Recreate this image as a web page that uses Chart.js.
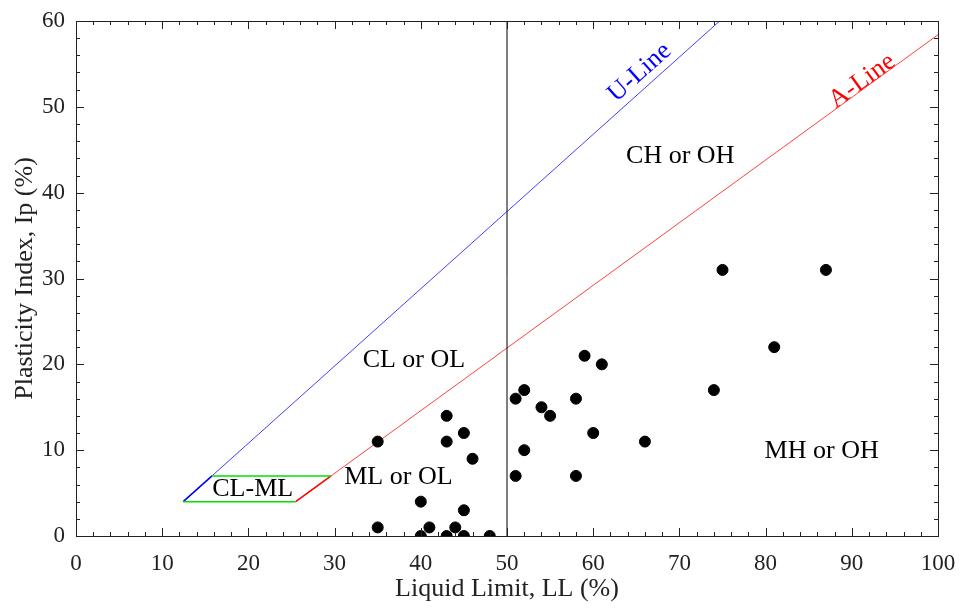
<!DOCTYPE html>
<html>
<head>
<meta charset="utf-8">
<script src="https://cdn.jsdelivr.net/npm/chart.js@4.4.1/dist/chart.umd.min.js"></script>
<style>
  body { margin: 0; background: #fff; }
  #wrap { width: 961px; height: 610px; }
</style>
</head>
<body>
<div id="wrap"><canvas id="plasticityChart" width="961" height="610"></canvas></div>
<script>
// soil samples (LL, Ip)
const liquidLimit = [35, 35, 40, 40, 41, 43, 43, 43, 44, 45, 45, 45, 46, 48, 51, 51, 52, 52, 54, 55, 58, 58, 59, 60, 61, 66, 74, 75, 81, 87];
const plasticity  = [11, 1, 4, 0, 1, 14, 11, 0, 1, 12, 3, 0, 9, 0, 16, 7, 17, 10, 15, 14, 16, 7, 21, 12, 20, 11, 17, 31, 22, 31];

// reference lines of the Casagrande chart
const uLine = [{ x: 12.44, y: 4 }, { x: 74.67, y: 60 }];
const uLineLow = [{ x: 12.44, y: 4 }, { x: 15.78, y: 7 }];
const aLine = [{ x: 25.48, y: 4 }, { x: 100, y: 58.4 }];
const aLineLow = [{ x: 25.48, y: 4 }, { x: 29.59, y: 7 }];
const clmlBottom = [{ x: 12.44, y: 4 }, { x: 25.48, y: 4 }];
const clmlTop = [{ x: 15.78, y: 7 }, { x: 29.59, y: 7 }];
const llDivide = [{ x: 50, y: 0 }, { x: 50, y: 60 }];

// zone labels
const zoneLabels = [
  { text: 'CH or OH', x: 70.1, y: 44.2 },
  { text: 'CL or OL', x: 39.2, y: 20.5 },
  { text: 'ML or OL', x: 37.4, y: 6.9 },
  { text: 'CL-ML', x: 20.5, y: 5.4 },
  { text: 'MH or OH', x: 86.5, y: 9.9 }
];
const lineLabels = [
  { text: 'U-Line', x: 65.4, y: 54.0, color: '#0000ff', angle: 41.9 },
  { text: 'A-Line', x: 91.2, y: 53.0, color: '#ff0000', angle: 36 }
];

const FONT = "'Liberation Serif', 'Times New Roman', serif";

const samples = liquidLimit.map((ll, i) => ({ x: ll, y: plasticity[i] }));

function lineSet(data, color, width) {
  return {
    data: data,
    showLine: true,
    borderColor: color,
    borderWidth: width,
    pointRadius: 0,
    fill: false
  };
}

// inward ticks on all four sides + frame
const frameTicks = {
  id: 'frameTicks',
  afterDraw(chart) {
    const { ctx, chartArea: a, scales: { x, y } } = chart;
    ctx.save();
    ctx.strokeStyle = '#222';
    ctx.lineWidth = 1;
    ctx.strokeRect(a.left + 0.5, a.top + 0.5, a.right - a.left, a.bottom - a.top);
    ctx.beginPath();
    x.ticks.forEach(t => {
      const px = Math.round(x.getPixelForValue(t.value)) + 0.5;
      const len = t.value % 10 === 0 ? 8 : 4;
      ctx.moveTo(px, a.bottom); ctx.lineTo(px, a.bottom - len);
      ctx.moveTo(px, a.top); ctx.lineTo(px, a.top + len);
    });
    y.ticks.forEach(t => {
      const py = Math.round(y.getPixelForValue(t.value)) + 0.5;
      const len = t.value % 10 === 0 ? 8 : 4;
      ctx.moveTo(a.left, py); ctx.lineTo(a.left + len, py);
      ctx.moveTo(a.right, py); ctx.lineTo(a.right - len, py);
    });
    ctx.stroke();
    ctx.restore();
  }
};

const zoneText = {
  id: 'zoneText',
  afterDatasetsDraw(chart) {
    const { ctx, scales: { x, y } } = chart;
    ctx.save();
    ctx.textAlign = 'center';
    ctx.textBaseline = 'middle';
    ctx.font = '26px ' + FONT;
    ctx.fillStyle = '#000';
    zoneLabels.forEach(l => {
      ctx.fillText(l.text, x.getPixelForValue(l.x), y.getPixelForValue(l.y));
    });
    lineLabels.forEach(l => {
      ctx.save();
      ctx.translate(x.getPixelForValue(l.x), y.getPixelForValue(l.y));
      ctx.rotate(-l.angle * Math.PI / 180);
      ctx.fillStyle = l.color;
      ctx.fillText(l.text, 0, 0);
      ctx.restore();
    });
    ctx.restore();
  }
};

new Chart(document.getElementById('plasticityChart'), {
  type: 'scatter',
  data: {
    datasets: [
      {
        data: samples,
        backgroundColor: '#000',
        borderColor: '#000',
        pointRadius: 5.5,
        pointHoverRadius: 5.5
      },
      lineSet(llDivide, '#000', 1),
      lineSet(clmlTop, '#00e000', 1.5),
      lineSet(clmlBottom, '#00e000', 1.5),
      lineSet(uLineLow, '#0000ff', 1.5),
      lineSet(aLineLow, '#ff0000', 1.5),
      lineSet(uLine, 'rgba(0,0,255,0.75)', 1),
      lineSet(aLine, 'rgba(255,0,0,0.75)', 1)
    ]
  },
  options: {
    responsive: false,
    animation: false,
    layout: { padding: { top: 21, right: 23, left: 0, bottom: 0 } },
    plugins: { legend: { display: false }, tooltip: { enabled: false } },
    scales: {
      x: {
        type: 'linear',
        min: 0,
        max: 100,
        grid: { display: false, drawTicks: false },
        border: { display: false },
        ticks: {
          stepSize: 2,
          padding: 14,
          autoSkip: false,
          maxRotation: 0,
          color: '#222',
          font: { family: FONT, size: 23 },
          callback: v => (v % 10 === 0 ? v : '')
        },
        title: {
          display: true,
          text: 'Liquid Limit, LL (%)',
          color: '#222',
          font: { family: FONT, size: 26 },
          padding: { top: 4, bottom: 5 }
        },
        // fixed size, no label overhang so the plot area stays put
        afterFit: s => { s.height = 74; s.paddingLeft = 0; s.paddingRight = 0; }
      },
      y: {
        type: 'linear',
        min: 0,
        max: 60,
        grid: { display: false, drawTicks: false },
        border: { display: false },
        ticks: {
          stepSize: 2,
          padding: 11,
          autoSkip: false,
          color: '#222',
          font: { family: FONT, size: 23 },
          callback: v => (v % 10 === 0 ? v : '')
        },
        title: {
          display: true,
          text: 'Plasticity Index, Ip (%)',
          color: '#222',
          font: { family: FONT, size: 26 },
          padding: { top: 10, bottom: 4 }
        },
        afterFit: s => { s.width = 76; s.paddingTop = 0; s.paddingBottom = 0; }
      }
    }
  },
  plugins: [frameTicks, zoneText]
});
</script>
</body>
</html>
